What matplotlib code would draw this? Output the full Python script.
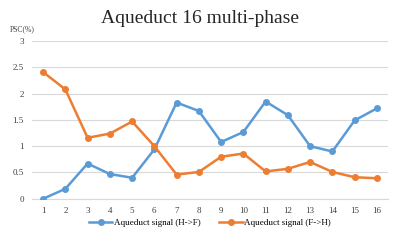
import matplotlib
matplotlib.use("Agg")
import matplotlib.pyplot as plt

matplotlib.rc('font', family='Liberation Serif')

# phase index
phases = list(range(1, 17))

# Aqueduct signal (H->F)
h_to_f = [0.0, 0.19, 0.67, 0.47, 0.40, 0.94, 1.83, 1.67, 1.08, 1.27, 1.85, 1.59, 1.00, 0.90, 1.49, 1.72]
# Aqueduct signal (F->H)
f_to_h = [2.41, 2.08, 1.16, 1.24, 1.47, 1.00, 0.46, 0.51, 0.80, 0.86, 0.52, 0.57, 0.70, 0.51, 0.41, 0.39]

y_ticks = [0, 0.5, 1, 1.5, 2, 2.5, 3]
y_labels = ['0', '0.5', '1', '1.5', '2', '2.5', '3']

fig = plt.figure(figsize=(4.0, 2.43), dpi=100)
ax = fig.add_axes([0.08, 0.182, 0.89, 0.649])

ax.plot(phases, h_to_f, color='#5B9BD5', linewidth=1.8, marker='o', markersize=4,
        label='Aqueduct signal (H->F)', zorder=3)
ax.plot(phases, f_to_h, color='#ED7D31', linewidth=1.8, marker='o', markersize=4,
        label='Aqueduct signal (F->H)', zorder=3)

ax.set_xlim(0.5, 16.5)
ax.set_ylim(0, 3)
ax.set_xticks(phases)
ax.set_yticks(y_ticks)
ax.set_yticklabels(y_labels)
ax.tick_params(axis='both', length=0, labelsize=6.5, colors='#404040', pad=6)

ax.grid(axis='y', color='#D9D9D9', linewidth=0.8, zorder=0)
for s in ['top', 'right', 'left']:
    ax.spines[s].set_visible(False)
ax.spines['bottom'].set_color('#D9D9D9')
ax.spines['bottom'].set_linewidth(0.8)

fig.text(0.5, 0.925, 'Aqueduct 16 multi-phase', ha='center', va='center', fontsize=14, color='#262626')
fig.text(0.055, 0.88, 'PSC(%)', ha='center', va='center', fontsize=5.5, color='#404040')

ax.legend(loc='upper center', bbox_to_anchor=(0.5, -0.075), ncol=2, frameon=False,
          fontsize=6.5, handlelength=2.6, columnspacing=2.0, handletextpad=0.2)

fig.savefig('out.png', dpi=100)
